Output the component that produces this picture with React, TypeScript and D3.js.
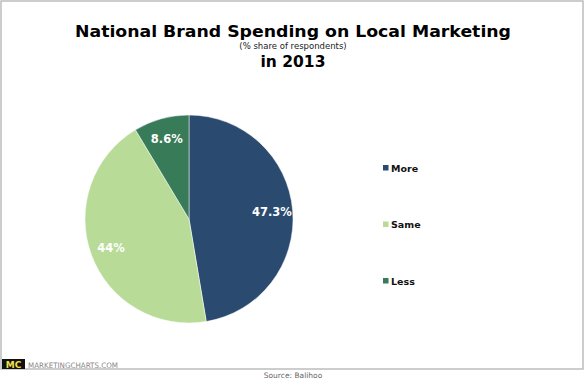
import React from "react";
import * as d3 from "d3";

const categories = ["More", "Same", "Less"];
const values = [47.3, 44, 8.6];
const valueLabels = ["47.3%", "44%", "8.6%"];
const colors = ["#2a4b6f", "#b8dc98", "#387b58"];

export default function App() {
  const W = 585, H = 380;
  const cx = 189, cy = 219, r = 104;
  const pie = d3.pie<number>().sort(null).value((d) => d)(values);
  const arc = d3.arc<d3.PieArcDatum<number>>().innerRadius(0).outerRadius(r);
  const labelArc = d3.arc<d3.PieArcDatum<number>>().innerRadius(r * 0.8).outerRadius(r * 0.8);
  const legendY = d3.scalePoint<string>().domain(categories).range([168, 281]);
  const font = "Verdana, 'DejaVu Sans', sans-serif";
  return (
    <svg width={W} height={H} style={{ position: "absolute", left: 0, top: 0, background: "#fff" }}>
      <rect x={1} y={1} width={582} height={368} fill="#fff" stroke="#bdbdbd" strokeWidth={1.5} />
      <text x={293} y={37} textAnchor="middle" fontFamily={font} fontWeight="bold" fontSize={16.5} textLength={436} lengthAdjust="spacingAndGlyphs" fill="#000">
        National Brand Spending on Local Marketing
      </text>
      <text x={293} y={48.5} textAnchor="middle" fontFamily={font} fontSize={8.5} fill="#222">
        (% share of respondents)
      </text>
      <text x={293} y={67} textAnchor="middle" fontFamily={font} fontWeight="bold" fontSize={15.5} fill="#000">
        in 2013
      </text>
      <g transform={`translate(${cx},${cy})`}>
        {pie.map((p, i) => (
          <path key={i} d={arc(p) || ""} fill={colors[i]} stroke="#fff" strokeWidth={0.5} />
        ))}
        {pie.map((p, i) => {
          const [x, y] = labelArc.centroid(p);
          return (
            <text key={"l" + i} x={x} y={y} textAnchor="middle" dominantBaseline="central" fontFamily={font} fontWeight="bold" fontSize={11.5} fill="#fff">
              {valueLabels[i]}
            </text>
          );
        })}
      </g>
      {categories.map((c, i) => (
        <g key={c}>
          <rect x={383} y={(legendY(c) as number) - 3} width={5.5} height={5.5} fill={colors[i]} />
          <text x={391} y={legendY(c) as number} dominantBaseline="central" fontFamily={font} fontWeight="bold" fontSize={9.5} fill="#111">
            {c}
          </text>
        </g>
      ))}
      <rect x={2} y={359} width={23} height={10} fill="#111" />
      <text x={13.5} y={367.5} textAnchor="middle" fontFamily={font} fontWeight="bold" fontSize={9} fill="#f2e14c">MC</text>
      <text x={28} y={367.5} fontFamily={font} fontSize={7.5} fill="#888" textLength={90} lengthAdjust="spacingAndGlyphs">MARKETINGCHARTS.COM</text>
      <text x={293} y={378} textAnchor="middle" fontFamily={font} fontSize={7.5} fill="#666">Source: Balihoo</text>
    </svg>
  );
}
